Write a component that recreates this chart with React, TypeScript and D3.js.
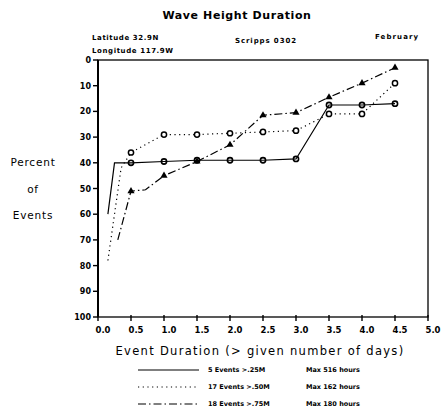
import React from "react";
import * as d3 from "d3";

const durations = [0.5, 1.0, 1.5, 2.0, 2.5, 3.0, 3.5, 4.0, 4.5];
const pct25 = [40, 39.5, 39, 39, 39, 38.5, 17.5, 17.5, 17];
const pct50 = [36, 29, 29, 28.5, 28, 27.5, 21, 21, 9];
const pct75 = [51, 45, 39.5, 33, 21.5, 20.5, 14.5, 9, 3];
// lead-in points before first marker
const lead25X = [0.15, 0.25];
const lead25Y = [60, 40];
const lead50X = [0.15, 0.35];
const lead50Y = [78, 42];
const lead75X = [0.3];
const lead75Y = [70];
const bend75X = [0.72];
const bend75Y = [50.5];

const xTicks = [0, 0.5, 1, 1.5, 2, 2.5, 3, 3.5, 4, 4.5, 5];
const yTicks = [0, 10, 20, 30, 40, 50, 60, 70, 80, 90, 100];

const legendLabels = ["5 Events >.25M", "17 Events >.50M", "18 Events >.75M"];
const legendMax = ["Max 516 hours", "Max 162 hours", "Max 180 hours"];
const dashes = ["none", "1.2 3.5", "8 3 1.5 3"];

export default function App() {
  const W = 442, H = 413;
  const x = d3.scaleLinear().domain([0, 5]).range([98, 428]);
  const y = d3.scaleLinear().domain([0, 100]).range([60, 317]);
  const line = d3.line<[number, number]>().x(d => x(d[0])).y(d => y(d[1]));
  const font = "'DejaVu Sans', sans-serif";

  const pts25: [number, number][] = [
    ...lead25X.map((v, i) => [v, lead25Y[i]] as [number, number]),
    ...durations.map((v, i) => [v, pct25[i]] as [number, number]),
  ];
  const pts50: [number, number][] = [
    ...lead50X.map((v, i) => [v, lead50Y[i]] as [number, number]),
    ...durations.map((v, i) => [v, pct50[i]] as [number, number]),
  ];
  const pts75: [number, number][] = [
    ...lead75X.map((v, i) => [v, lead75Y[i]] as [number, number]),
    [durations[0], pct75[0]],
    ...bend75X.map((v, i) => [v, bend75Y[i]] as [number, number]),
    ...durations.slice(1).map((v, i) => [v, pct75[i + 1]] as [number, number]),
  ];

  const tri = d3.symbol().type(d3.symbolTriangle).size(22)();

  return (
    <svg width={W} height={H} style={{ position: "absolute", left: 0, top: 0, background: "#fff" }}>
      <rect x={0} y={0} width={W} height={H} fill="#fff" />
      {/* Title and header */}
      <text x={237} y={19} textAnchor="middle" fontFamily={font} fontSize={11} fontWeight="600" letterSpacing={0.6}>Wave Height Duration</text>
      <text x={92} y={40} fontFamily={font} fontSize={7} fontWeight="bold" letterSpacing={0.6}>Latitude 32.9N</text>
      <text x={92} y={53} fontFamily={font} fontSize={7} fontWeight="bold" letterSpacing={0.6}>Longitude 117.9W</text>
      <text x={235} y={43} fontFamily={font} fontSize={7} fontWeight="bold" letterSpacing={0.9}>Scripps 0302</text>
      <text x={375} y={39} fontFamily={font} fontSize={7} fontWeight="bold" letterSpacing={1.1}>February</text>

      {/* Frame */}
      <rect x={x(0)} y={y(0)} width={x(5) - x(0)} height={y(100) - y(0)} fill="none" stroke="#000" strokeWidth={1.3} />
      <line x1={x(0)} x2={x(0)} y1={y(0)} y2={y(100)} stroke="#000" strokeWidth={2} />

      {/* Y axis ticks */}
      {yTicks.map(t => (
        <g key={"y" + t}>
          <line x1={x(0) - 5} x2={x(0)} y1={y(t)} y2={y(t)} stroke="#000" strokeWidth={1.4} />
          <text x={x(0) - 7} y={y(t) + 3} textAnchor="end" fontFamily={font} fontSize={8} fontWeight="bold">{t}</text>
        </g>
      ))}
      {/* X axis ticks */}
      {xTicks.map(t => (
        <g key={"x" + t}>
          <line x1={x(t)} x2={x(t)} y1={y(100) - 2} y2={y(100) + 4} stroke="#000" strokeWidth={1.4} />
          <text x={x(t) + 5} y={y(100) + 16} textAnchor="middle" fontFamily={font} fontSize={8.5} fontWeight="bold">{t.toFixed(1)}</text>
        </g>
      ))}

      {/* Axis titles */}
      <text x={33} y={166} textAnchor="middle" fontFamily={font} fontSize={10.5} letterSpacing={0.8}>Percent</text>
      <text x={33} y={193} textAnchor="middle" fontFamily={font} fontSize={10.5} letterSpacing={0.8}>of</text>
      <text x={33} y={219} textAnchor="middle" fontFamily={font} fontSize={10.5} letterSpacing={0.8}>Events</text>
      <text x={260} y={355} textAnchor="middle" fontFamily={font} fontSize={11.5} letterSpacing={1.3}>Event Duration (&gt; given number of days)</text>

      {/* Series lines */}
      <path d={line(pts25) || ""} fill="none" stroke="#000" strokeWidth={1.2} />
      <path d={line(pts50) || ""} fill="none" stroke="#000" strokeWidth={1.2} strokeDasharray={dashes[1]} />
      <path d={line(pts75) || ""} fill="none" stroke="#000" strokeWidth={1.2} strokeDasharray={dashes[2]} />

      {/* Markers */}
      {durations.map((d, i) => (
        <circle key={"m25" + i} cx={x(d)} cy={y(pct25[i])} r={2.6} fill="none" stroke="#000" strokeWidth={1.6} />
      ))}
      {durations.map((d, i) => (
        <circle key={"m50" + i} cx={x(d)} cy={y(pct50[i])} r={2.6} fill="#fff" stroke="#000" strokeWidth={1.5} />
      ))}
      {durations.map((d, i) => (
        <path key={"m75" + i} d={tri || ""} transform={`translate(${x(d)},${y(pct75[i])})`} fill="#000" />
      ))}

      {/* Legend */}
      {legendLabels.map((lab, i) => {
        const ly = 370 + i * 17;
        return (
          <g key={"lg" + i}>
            <line x1={138} x2={199} y1={ly} y2={ly} stroke="#000" strokeWidth={1.1} strokeDasharray={dashes[i]} />
            <text x={208} y={ly + 2} fontFamily={font} fontSize={6.5} fontWeight="bold">{lab}</text>
            <text x={306} y={ly + 2} fontFamily={font} fontSize={6.5} fontWeight="bold">{legendMax[i]}</text>
          </g>
        );
      })}
    </svg>
  );
}
